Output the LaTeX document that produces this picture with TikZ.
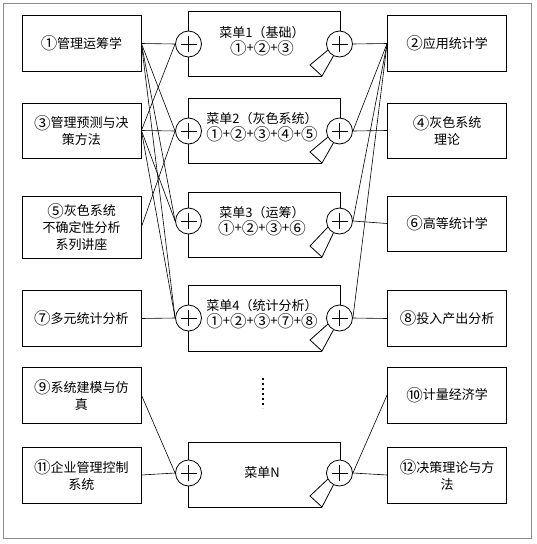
\documentclass[tikz,border=0pt]{standalone}
\usepackage{fontspec}
\setmainfont{Noto Sans CJK SC}
\newcommand\cn[1]{\raisebox{-1.3pt}{\fontsize{16.5}{17}\selectfont #1}}
\usetikzlibrary{positioning}
\definecolor{framegray}{HTML}{8C8C8C}

\begin{document}
\begin{tikzpicture}[
  x=1pt, y=-1pt, line width=0.8pt,
  course/.style={draw, minimum width=119pt, minimum height=56pt, align=center, inner sep=2pt, font=\fontsize{13}{17}\selectfont},
  junction/.style={draw, circle, fill=white, minimum size=26pt, inner sep=0pt,
    path picture={\draw ([xshift=-8pt]path picture bounding box.center) -- ([xshift=8pt]path picture bounding box.center)
      ([yshift=-8pt]path picture bounding box.center) -- ([yshift=8pt]path picture bounding box.center);}},
  menutext/.style={align=center, font=\fontsize{13}{15}\selectfont},
  link/.style={draw, line width=0.6pt}
]
\useasboundingbox (0,0) rectangle (536,544);
\draw[framegray] (3,3) rectangle (531,538);

% courses on the left
\node[course] (c1) at (81.5,43.5) {\cn{①}管理运筹学};
\node[course, minimum height=55pt] (c3) at (81.5,130.5) {\cn{③}管理预测与决\\策方法};
\node[course, minimum height=62pt] (c5) at (81.5,227) {\cn{⑤}灰色系统\\不确定性分析\\系列讲座};
\node[course] (c7) at (81.5,318.5) {\cn{⑦}多元统计分析};
\node[course] (c9) at (81.5,395) {\cn{⑨}系统建模与仿\\真};
\node[course] (c11) at (81.5,475) {\cn{⑪}企业管理控制\\系统};

% courses on the right
\node[course] (c2) at (447,43.5) {\cn{②}应用统计学};
\node[course, minimum height=55pt] (c4) at (447,130.5) {\cn{④}灰色系统\\理论};
\node[course, minimum height=55pt] (c6) at (447,223.5) {\cn{⑥}高等统计学};
\node[course] (c8) at (447,318.5) {\cn{⑧}投入产出分析};
\node[course] (c10) at (447,395) {\cn{⑩}计量经济学};
\node[course] (c12) at (447,475) {\cn{⑫}决策理论与方\\法};

% menus
\foreach \m/\top/\bot/\cy in {1/11/76/44, 2/98/163/131, 3/192/257/221, 4/285/351/318, N/442/507/473} {
  \draw (340,\cy) -- (340,\top) -- (188,\top) -- (188,\bot) -- (322,\bot);
  \node[junction] (in\m) at (188.5,\cy) {};
  \node[junction] (out\m) at (339.5,\cy) {};
  \draw (out\m.-117) -- (322,\bot) -- (310,\bot-11) -- (out\m.-152);
}
\node[menutext] (t1) at (262,41) {菜单1（基础）\\\cn{①}+\cn{②}+\cn{③}};
\node[menutext] (t2) at (262,127) {菜单2（灰色系统）\\\cn{①}+\cn{②}+\cn{③}+\cn{④}+\cn{⑤}};
\node[menutext] (t3) at (262,221) {菜单3（运筹）\\\cn{①}+\cn{②}+\cn{③}+\cn{⑥}};
\node[menutext] (t4) at (262,314) {菜单4（统计分析）\\\cn{①}+\cn{②}+\cn{③}+\cn{⑦}+\cn{⑧}};
\node[menutext] (tN) at (262,473) {菜单N};
\draw[line width=1.6pt, dash pattern=on 1.6pt off 3.4pt] (263,378) -- (263,408);

% links
\foreach \s/\t in {c1/in1, c1/in2, c1/in3, c1/in4, c3/in1, c3/in2, c3/in3, c3/in4, c5/in2, c7/in4, c9/inN, c11/inN}
  \draw[link] (\s.east) -- (\t.west);
\foreach \s/\t in {out1/c2, out2/c2, out3/c2, out4/c2, out2/c4, out3/c6, out4/c8, outN/c10, outN/c12}
  \draw[link] (\s.east) -- (\t.west);
\end{tikzpicture}
\end{document}
